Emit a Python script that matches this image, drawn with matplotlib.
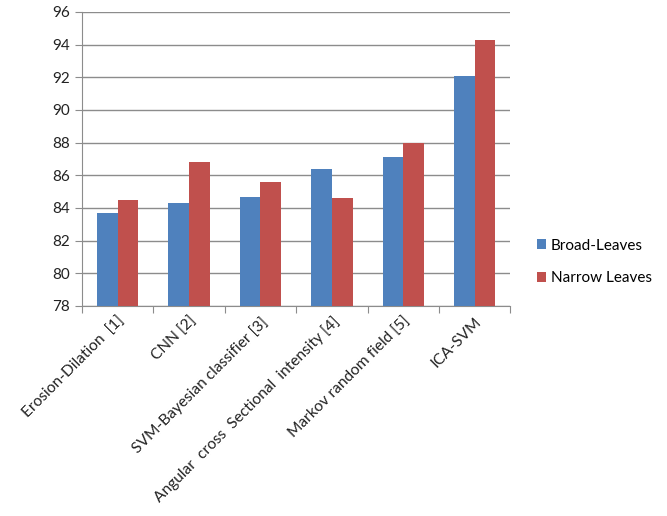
import numpy as np
import matplotlib
matplotlib.use("Agg")
import matplotlib.pyplot as plt

categories = ["Erosion-Dilation  [1]", "CNN [2]", "SVM-Bayesian classifier [3]",
              "Angular  cross  Sectional  intensity [4]", "Markov random field [5]", "ICA-SVM"]
broad = [83.7, 84.3, 84.7, 86.4, 87.1, 92.1]
narrow = [84.5, 86.8, 85.6, 84.6, 88.0, 94.3]
yticks = [78, 80, 82, 84, 86, 88, 90, 92, 94, 96]

plt.rcParams['font.family'] = ['Lato', 'DejaVu Sans']

fig = plt.figure(figsize=(6.67, 5.16), dpi=100)
ax = fig.add_axes([0.123, 0.407, 0.642, 0.570])

x = np.arange(len(categories))
w = 0.29
ax.bar(x - w / 2, broad, w, color="#4F81BD", label="Broad-Leaves", zorder=3)
ax.bar(x + w / 2, narrow, w, color="#C0504D", label="Narrow Leaves", zorder=3)

ax.set_ylim(78, 96)
ax.set_xlim(-0.5, len(categories) - 0.5)
ax.set_yticks(yticks)
ax.yaxis.grid(True, color="#8C8C8C", linewidth=1.0, zorder=0)

# ticks at category boundaries, labels at centres
ax.set_xticks(np.arange(len(categories) + 1) - 0.5)
ax.set_xticklabels([])
ax.set_xticks(x, minor=True)
ax.set_xticklabels(categories, minor=True, rotation=45, ha="right",
                   rotation_mode="anchor", fontsize=11.2, color="#222222")
ax.tick_params(axis="x", which="minor", length=0, pad=6)
ax.tick_params(axis="x", which="major", length=5, color="#8C8C8C")
ax.tick_params(axis="y", length=5, color="#8C8C8C", labelsize=11, labelcolor="#222222")

for s in ["top", "right"]:
    ax.spines[s].set_visible(False)
for s in ["left", "bottom"]:
    ax.spines[s].set_color("#8C8C8C")

ax.legend(loc="center left", bbox_to_anchor=(1.03, 0.15), frameon=False,
          fontsize=11, handlelength=0.6, handleheight=0.6, handletextpad=0.3,
          labelspacing=1.2)

fig.savefig("out.png", dpi=100)
